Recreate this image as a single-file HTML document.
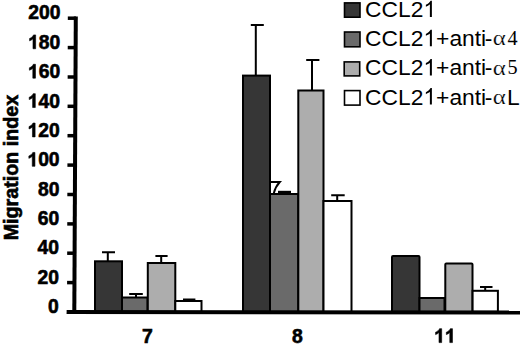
<!DOCTYPE html>
<html><head><meta charset="utf-8">
<style>
html,body{margin:0;padding:0;background:#fff;}
body{width:520px;height:345px;overflow:hidden;}
svg{display:block;}
text{font-family:"Liberation Sans",sans-serif;}
.t{font-weight:bold;font-size:19.3px;stroke:#000;stroke-width:0.6px;}
.tp{fill:#000;stroke:#000;stroke-width:63.7;}
.xl{font-weight:bold;font-size:19.4px;stroke:#000;stroke-width:0.6px;}
.xlp{fill:#000;stroke:#000;stroke-width:63.3;}
.yt{font-weight:bold;font-size:19.7px;stroke:#000;stroke-width:0.6px;}
.lg{font-size:22.8px;}
.lgp{fill:#000;}
.al{font-family:"Liberation Serif",serif;font-size:20.7px;stroke:#fff;stroke-width:0.2px;}
.sf{font-family:"Liberation Serif",serif;font-size:20.2px;}
</style></head>
<body>
<svg width="520" height="345" viewBox="0 0 520 345">
<rect x="0" y="0" width="520" height="345" fill="#fff"/>

<text class="yt" transform="translate(18,167.6) rotate(-90)" text-anchor="middle">Migration index</text>
<text class="t" x="28.30" y="19.40">200</text>
<path class="tp" transform="translate(28.12,48.78) scale(0.00942,-0.00942)" d="M799 0L518 0L518 1059C415 963 294 891 155 844L155 1099C228 1123 308 1168 395 1236C482 1303 541 1382 573 1472L799 1472Z"/>
<text class="t" x="38.85" y="48.78">80</text>
<path class="tp" transform="translate(27.94,78.16) scale(0.00942,-0.00942)" d="M799 0L518 0L518 1059C415 963 294 891 155 844L155 1099C228 1123 308 1168 395 1236C482 1303 541 1382 573 1472L799 1472Z"/>
<text class="t" x="38.67" y="78.16">60</text>
<path class="tp" transform="translate(27.76,107.54) scale(0.00942,-0.00942)" d="M799 0L518 0L518 1059C415 963 294 891 155 844L155 1099C228 1123 308 1168 395 1236C482 1303 541 1382 573 1472L799 1472Z"/>
<text class="t" x="38.49" y="107.54">40</text>
<path class="tp" transform="translate(27.58,136.92) scale(0.00942,-0.00942)" d="M799 0L518 0L518 1059C415 963 294 891 155 844L155 1099C228 1123 308 1168 395 1236C482 1303 541 1382 573 1472L799 1472Z"/>
<text class="t" x="38.31" y="136.92">20</text>
<path class="tp" transform="translate(27.40,166.30) scale(0.00942,-0.00942)" d="M799 0L518 0L518 1059C415 963 294 891 155 844L155 1099C228 1123 308 1168 395 1236C482 1303 541 1382 573 1472L799 1472Z"/>
<text class="t" x="38.13" y="166.30">00</text>
<text class="t" x="37.95" y="195.68">80</text>
<text class="t" x="37.77" y="225.06">60</text>
<text class="t" x="37.59" y="254.44">40</text>
<text class="t" x="37.41" y="283.82">20</text>
<text class="t" x="47.97" y="313.20">0</text>
<g stroke="#000" stroke-width="3.5">
<line x1="67.80" y1="18.2" x2="76" y2="18.2"/>
<line x1="67.72" y1="47.6" x2="76" y2="47.6"/>
<line x1="67.64" y1="77.0" x2="76" y2="77.0"/>
<line x1="67.56" y1="106.3" x2="76" y2="106.3"/>
<line x1="67.48" y1="135.7" x2="76" y2="135.7"/>
<line x1="67.40" y1="165.1" x2="76" y2="165.1"/>
<line x1="67.32" y1="194.5" x2="76" y2="194.5"/>
<line x1="67.24" y1="223.9" x2="76" y2="223.9"/>
<line x1="67.16" y1="253.2" x2="76" y2="253.2"/>
<line x1="67.08" y1="282.6" x2="76" y2="282.6"/>
</g>
<g stroke="#000" stroke-width="2">
<rect x="95" y="261.3" width="27" height="51" fill="#363636"/>
<rect x="122" y="297.5" width="25.5" height="15" fill="#6a6a6a"/>
<rect x="147.8" y="263" width="27.5" height="49" fill="#adadad"/>
<rect x="175.3" y="301" width="26.2" height="11" fill="#fff"/>
<rect x="243" y="75.6" width="27" height="237" fill="#363636"/>
<rect x="270" y="194" width="28.3" height="118" fill="#6a6a6a"/>
<rect x="298.3" y="90.5" width="25.2" height="222" fill="#adadad"/>
<rect x="323.5" y="201" width="28" height="111" fill="#fff"/>
<rect x="392" y="256" width="27.5" height="56" fill="#363636" rx="1"/>
<rect x="419.5" y="298" width="25" height="14.5" fill="#6a6a6a"/>
<rect x="445.3" y="263.4" width="27.2" height="49" fill="#adadad" rx="1"/>
<rect x="472.6" y="290.8" width="25.3" height="21" fill="#fff"/>
</g>
<g stroke="#000" stroke-width="2" fill="none">
<path d="M102 252.2H115M107.8 252.2V261"/>
<path d="M129.2 294H142.8M136 294V297"/>
<path d="M155.4 256H167.6M161.2 256V262"/>
<path d="M183 299.8H195.4" stroke-width="2.6"/>
<path d="M250.8 24.9H263.8M255.8 24.9V75"/>
<path d="M306.2 60H319.4M312 60V90"/>
<path d="M331.2 195.2H344.7M337.2 195.2V200"/>
<path d="M480 287H492.5M485.2 287V290"/>
<path d="M278 192H291" stroke-width="2.4"/>
<path d="M271 182H279.8Q275.5 186.5 273.8 193.2" stroke-width="1.9"/>
</g>
<path d="M75.8 16.5L74.3 314" stroke="#000" stroke-width="4" fill="none"/>
<path d="M66.6 312L520 312.4" stroke="#000" stroke-width="4" fill="none"/>

<text class="xl" x="142.00" y="342.60">7</text>
<text class="xl" x="292.10" y="342.60">8</text>
<path class="xlp" transform="translate(434.10,342.60) scale(0.00947,-0.00947)" d="M799 0L518 0L518 1059C415 963 294 891 155 844L155 1099C228 1123 308 1168 395 1236C482 1303 541 1382 573 1472L799 1472Z"/>
<path class="xlp" transform="translate(444.89,342.60) scale(0.00947,-0.00947)" d="M799 0L518 0L518 1059C415 963 294 891 155 844L155 1099C228 1123 308 1168 395 1236C482 1303 541 1382 573 1472L799 1472Z"/>
<g stroke="#000" stroke-width="1.6">
<rect x="344.5" y="2.9" width="15.5" height="14.3" fill="#363636"/>
<rect x="344.5" y="32" width="15.5" height="14.8" fill="#6a6a6a"/>
<rect x="344.2" y="61.9" width="15.5" height="14" fill="#adadad"/>
<rect x="344.5" y="90.6" width="15.5" height="14.5" fill="#fff"/>
</g>
<text class="lg" x="365.10" y="17.10">CCL2</text>
<path class="lgp" transform="translate(423.39,17.10) scale(0.01113,-0.01113)" d="M763 0L583 0L583 1147C540 1106 483 1065 413 1024C342 983 279 952 223 931L223 1105C324 1152 412 1210 487 1277C562 1344 615 1409 646 1472L763 1472Z"/>
<text class="lg" x="365.10" y="46.20">CCL2</text>
<path class="lgp" transform="translate(423.39,46.20) scale(0.01113,-0.01113)" d="M763 0L583 0L583 1147C540 1106 483 1065 413 1024C342 983 279 952 223 931L223 1105C324 1152 412 1210 487 1277C562 1344 615 1409 646 1472L763 1472Z"/>
<text class="lg" x="436.07" y="46.20">+anti</text>
<text class="lg" transform="translate(484.85,46.20) scale(1.0000,1)">-</text>
<text class="al" transform="translate(492.80,45.35) scale(1.2,1)">α</text>
<text class="sf" x="507.60" y="44.70">4</text>
<text class="lg" x="365.10" y="75.40">CCL2</text>
<path class="lgp" transform="translate(423.39,75.40) scale(0.01113,-0.01113)" d="M763 0L583 0L583 1147C540 1106 483 1065 413 1024C342 983 279 952 223 931L223 1105C324 1152 412 1210 487 1277C562 1344 615 1409 646 1472L763 1472Z"/>
<text class="lg" x="436.07" y="75.40">+anti</text>
<text class="lg" transform="translate(484.85,75.40) scale(1.0000,1)">-</text>
<text class="al" transform="translate(492.80,74.55) scale(1.2,1)">α</text>
<text class="sf" x="507.60" y="74.20">5</text>
<text class="lg" x="365.10" y="104.50">CCL2</text>
<path class="lgp" transform="translate(423.39,104.50) scale(0.01113,-0.01113)" d="M763 0L583 0L583 1147C540 1106 483 1065 413 1024C342 983 279 952 223 931L223 1105C324 1152 412 1210 487 1277C562 1344 615 1409 646 1472L763 1472Z"/>
<text class="lg" x="436.07" y="104.50">+anti</text>
<text class="lg" transform="translate(484.85,104.50) scale(1.0000,1)">-</text>
<text class="al" transform="translate(492.80,103.65) scale(1.2,1)">α</text>
<text class="lg" transform="translate(507.00,104.50) scale(1.0000,1)">L</text>
</svg>
</body></html>
